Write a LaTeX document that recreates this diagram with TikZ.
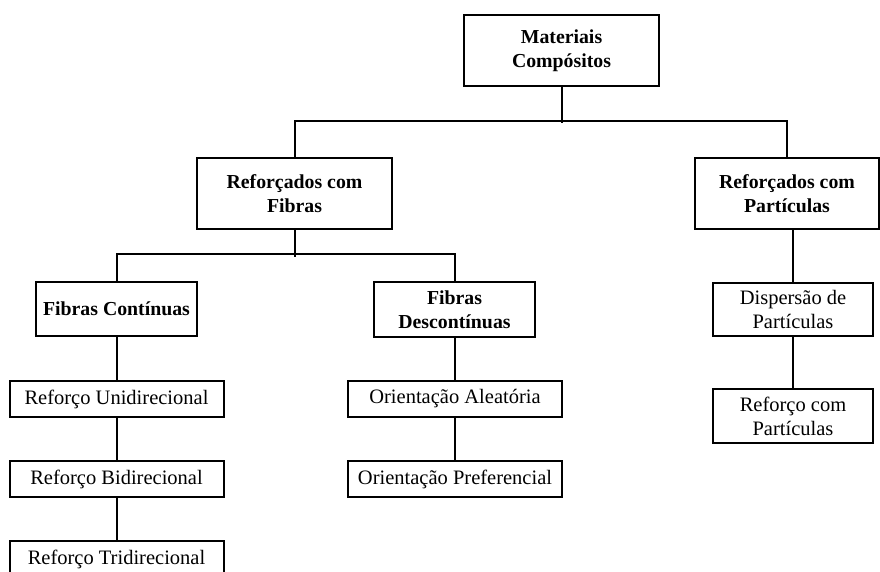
\documentclass[tikz,border=0pt]{standalone}
\usepackage{fontspec}
\setmainfont{Liberation Serif}
\begin{document}
\begin{tikzpicture}[x=1pt,y=-1pt,
  box/.style={draw=black,line width=2pt,fill=white,inner sep=2pt,align=center,
    font=\fontsize{20.5}{24}\selectfont},
  hbox/.style={box,font=\fontsize{19.8}{24}\selectfont\bfseries},
  conn/.style={line width=2pt}]
\useasboundingbox (0,0) rectangle (880,572);
\begin{scope}
\clip (0,0) rectangle (880,572);
\node[hbox,minimum width=195pt,minimum height=71pt] (mc) at (561.5,50.5) {Materiais\\Compósitos};
\node[hbox,minimum width=195pt,minimum height=71pt] (rf) at (294.5,193.5) {Reforçados com\\Fibras};
\node[hbox,minimum width=184pt,minimum height=71pt] (rp) at (787,193.5) {Reforçados com\\Partículas};
\node[hbox,minimum width=161pt,minimum height=54pt] (fc) at (116.5,309) {Fibras Contínuas};
\node[hbox,minimum width=161pt,minimum height=55pt] (fd) at (454.5,309.5) {Fibras\\Descontínuas};
\node[box,minimum width=214pt,minimum height=36pt] (ru) at (116.5,399) {Reforço Unidirecional};
\node[box,minimum width=214pt,minimum height=36pt] (rb) at (116.5,479) {Reforço Bidirecional};
\node[box,minimum width=214pt,minimum height=36pt] (rt) at (116.5,559) {Reforço Tridirecional};
\node[box,minimum width=214pt,minimum height=36pt] (oa) at (455,399) {Orientação Aleatória};
\node[box,minimum width=214pt,minimum height=36pt] (op) at (455,479) {Orientação Preferencial};
\node[box,minimum width=160pt,minimum height=53pt] (dp) at (793,309.5) {Dispersão de\\Partículas};
\node[box,minimum width=160pt,minimum height=54pt] (rcp) at (793,416) {Reforço com\\Partículas};
\end{scope}
\draw[conn] (mc.south) -- ++(0,36);
\draw[conn] (rf.north) -- ++(0,-36) -| (rp.north);
\draw[conn] (rf.south) -- ++(0,27);
\draw[conn] (fc.north) -- ++(0,-27) -| (fd.north);
\draw[conn] (fc.south) -- (fc.south |- ru.north);
\draw[conn] (ru.south) -- (rb.north);
\draw[conn] (rb.south) -- (rb.south |- rt.north);
\draw[conn] (fd.south) -- (fd.south |- oa.north);
\draw[conn] (oa.south) -- (op.north);
\draw[conn] (rp.south -| dp.north) -- (dp.north);
\draw[conn] (dp.south) -- (rcp.north);
\end{tikzpicture}
\end{document}
